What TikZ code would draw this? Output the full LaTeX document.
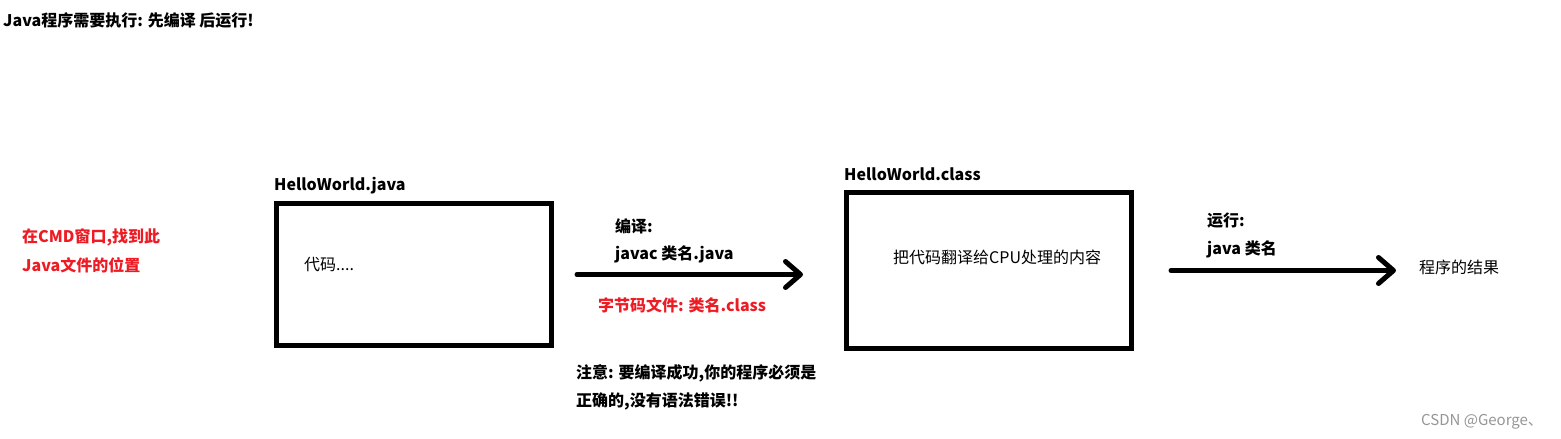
\documentclass[tikz,border=0pt]{standalone}
\usepackage{fontspec}
\setmainfont{Noto Sans CJK SC}
\usepackage{xcolor}
\usetikzlibrary{arrows.meta}
\usetikzlibrary{positioning}

\definecolor{PaintRed}{RGB}{237,28,36}
\definecolor{MarkGray}{RGB}{150,150,150}

\tikzset{
    txt/.style={anchor=west, inner sep=0pt, font=\fontsize{16}{20}\selectfont\bfseries},
    txtlight/.style={anchor=west, inner sep=0pt, font=\fontsize{16}{20}\selectfont},
    filebox/.style={draw, line width=5pt, rectangle, inner sep=0pt},
    flow/.style={line width=5pt, line cap=round, -{Straight Barb[length=15pt, width=26pt, line width=5pt, round]}}
}

\begin{document}
\begin{tikzpicture}[x=1pt, y=-1pt]

    \fill [white] (0,0) rectangle (1561,439);
    \useasboundingbox (0,0) rectangle (1561,439);

    % title
    \node [txt] (title) at (3,20) {Java程序需要执行: 先编译 后运行!};

    % left note
    \node [txt, color=PaintRed] (cmd1) at (22,237) {在CMD窗口,找到此};
    \node [txt, color=PaintRed] (cmd2) at (22,265) {Java文件的位置};

    % source file
    \node [filebox, minimum width=275pt, minimum height=142pt] (javabox) at (414,274.5) {};
    \node [txt] (javaname) at (274,186) {HelloWorld.java};
    \node [txtlight] (code) at (304,265) {代码....};

    % compiled file
    \node [filebox, minimum width=285pt, minimum height=156pt] (classbox) at (989,270.5) {};
    \node [txt] (classname) at (844,174) {HelloWorld.class};
    \node [txtlight] (bytes) at (893,257) {把代码翻译给CPU处理的内容};

    % result
    \node [txtlight] (result) at (1419,267) {程序的结果};

    % compile step
    \draw [flow, shorten <=23pt, shorten >=41pt] (javabox.east) -- (javabox.east -| classbox.west);
    \node [txt] (comp1) at (615,226) {编译:};
    \node [txt] (comp2) at (615,254) {javac 类名.java};
    \node [txt, color=PaintRed] (bytecode) at (598,305) {字节码文件: 类名.class};
    \node [txt] (note1) at (576,373) {注意: 要编译成功,你的程序必须是};
    \node [txt] (note2) at (576,401) {正确的,没有语法错误!!};

    % run step
    \draw [flow, shorten <=37pt, shorten >=23pt] (classbox.east) -- (classbox.east -| result.west);
    \node [txt] (run1) at (1207,221) {运行:};
    \node [txt] (run2) at (1207,249) {java 类名};

    % watermark
    \node [anchor=west, inner sep=0pt, color=MarkGray, font=\fontsize{15}{18}\selectfont] (mark) at (1421,422) {CSDN @George、};

\end{tikzpicture}
\end{document}
